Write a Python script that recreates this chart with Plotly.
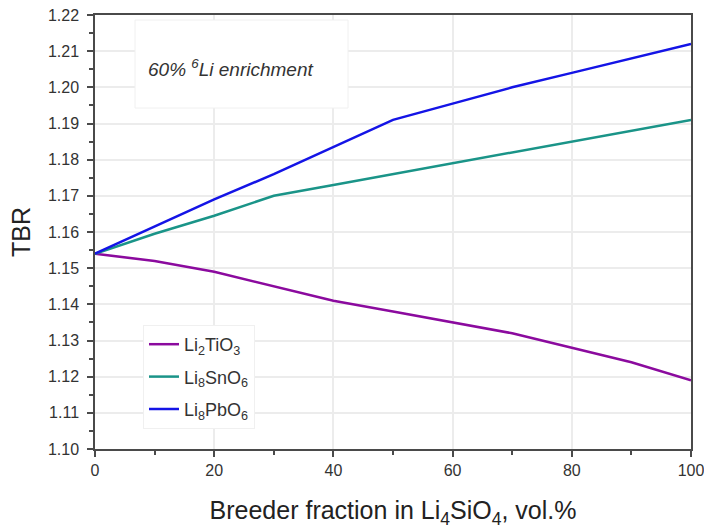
import plotly.graph_objects as go

x_vals = [0, 10, 20, 30, 40, 50, 60, 70, 80, 90, 100]
li2tio3 = [1.154, 1.152, 1.149, 1.145, 1.141, 1.138, 1.135, 1.132, 1.128, 1.124, 1.119]
li8sno6 = [1.154, 1.1595, 1.1645, 1.170, 1.173, 1.176, 1.179, 1.182, 1.185, 1.188, 1.191]
li8pbo6 = [1.154, 1.1615, 1.169, 1.176, 1.1835, 1.191, 1.1955, 1.200, 1.204, 1.208, 1.212]

names = ["Li<sub>2</sub>TiO<sub>3</sub>", "Li<sub>8</sub>SnO<sub>6</sub>", "Li<sub>8</sub>PbO<sub>6</sub>"]
colors = ["#8B0A9E", "#1A9488", "#1414E6"]
series = [li2tio3, li8sno6, li8pbo6]

fig = go.Figure()
for i, (nm, col, ys) in enumerate(zip(names, colors, series)):
    fig.add_trace(go.Scatter(x=x_vals, y=ys, mode="lines", name=nm, legendgroup=f"g{i}",
                             line=dict(color=col, width=2.5)))

font_family = "Liberation Sans, Arial, sans-serif"
axis_common = dict(
    showline=True, linecolor="#4a4a4a", linewidth=1.5, mirror=True,
    ticks="outside", ticklen=6, tickwidth=1.5, tickcolor="#4a4a4a",
    showgrid=True, gridcolor="#ececec", gridwidth=1.5,
    zeroline=False, automargin=False,
    tickfont=dict(family=font_family, size=16, color="#333333"),
)

fig.update_xaxes(range=[0, 100], dtick=20, tick0=0, ticklabeloverflow="allow",
                 minor=dict(dtick=10, ticks="outside", ticklen=4, tickcolor="#4a4a4a", tickwidth=1.5, showgrid=False),
                 title=dict(text="Breeder fraction in Li<sub>4</sub>SiO<sub>4</sub>, vol.%",
                            font=dict(family=font_family, size=25, color="#222222"), standoff=24),
                 **axis_common)
fig.update_yaxes(range=[1.10, 1.22], dtick=0.01, tick0=1.10, tickformat=".2f",
                 ticklabelstandoff=5,
                 minor=dict(dtick=0.005, ticks="outside", ticklen=4, tickcolor="#4a4a4a", tickwidth=1.5, showgrid=False),
                 title=dict(text="TBR", font=dict(family=font_family, size=25, color="#222222"), standoff=10),
                 **axis_common)

fig.add_shape(type="rect", xref="paper", yref="paper",
              x0=(135 - 95) / 596, x1=(348 - 95) / 596,
              y0=(449 - 108) / 434, y1=(449 - 20) / 434,
              fillcolor="white", line=dict(color="#f0f0f0", width=1), layer="above")
fig.add_annotation(xref="paper", yref="paper", x=(146 - 95) / 596, y=(449 - 68) / 434,
                   xanchor="left", yanchor="middle", showarrow=False,
                   text="<i>60% <sup>6</sup>Li enrichment</i>",
                   font=dict(family=font_family, size=19, color="#333333"))

fig.update_layout(
    width=704, height=529,
    margin=dict(l=95, r=13, t=15, b=80),
    paper_bgcolor="white", plot_bgcolor="white",
    font=dict(family=font_family, color="#333333"),
    legend=dict(x=(143 - 95) / 596, y=(449 - 325) / 434, xanchor="left", yanchor="top",
                bgcolor="white", bordercolor="#f0f0f0", borderwidth=1,
                font=dict(family=font_family, size=18, color="#333333"),
                tracegroupgap=6),
    showlegend=True,
)

fig.write_html("out.html")
